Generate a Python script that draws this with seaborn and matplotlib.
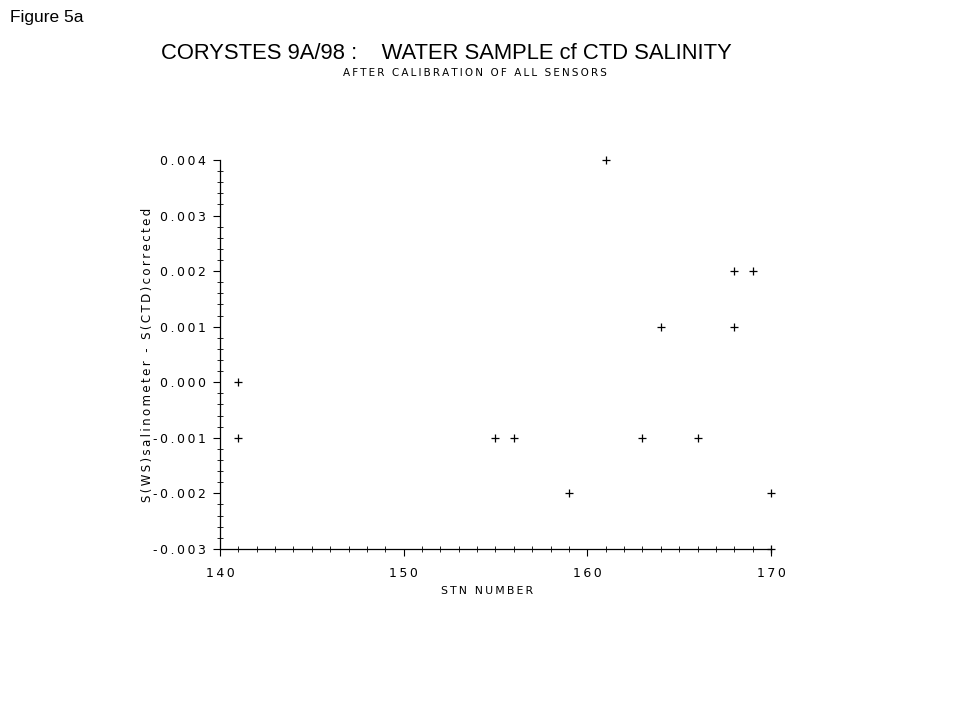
import numpy as np
import pandas as pd
import matplotlib
matplotlib.use("Agg")
import matplotlib.pyplot as plt
import seaborn as sns
from matplotlib.ticker import MultipleLocator, FuncFormatter

# ---------- data ----------
stn = [141, 141, 155, 156, 159, 161, 163, 164, 166, 168, 168, 169, 170, 170]
sal_diff = [0.000, -0.001, -0.001, -0.001, -0.002, 0.004, -0.001, 0.001,
            -0.001, 0.002, 0.001, 0.002, -0.002, -0.003]

x_ticks = [140, 150, 160, 170]
y_ticks = [-0.003, -0.002, -0.001, 0.000, 0.001, 0.002, 0.003, 0.004]

THIN = "\u2009"


def spaced(s):
    """Mimic the wide-tracked plotter font."""
    return THIN.join(s)


sns.set_style("white")
plt.rcParams["font.family"] = ["DejaVu Sans"]
plt.rcParams["text.color"] = "black"
plt.rcParams["axes.labelcolor"] = "black"

df = pd.DataFrame({"stn": stn, "diff": sal_diff})

fig = plt.figure(figsize=(9.8, 7.11), dpi=100)
ax = fig.add_axes([0.2245, 0.228, 0.5622, 0.547])

sns.scatterplot(data=df, x="stn", y="diff", marker="+", s=40, color="black",
                linewidth=0.9, ax=ax, clip_on=False, legend=False)

ax.set_xlim(140, 170)
ax.set_ylim(-0.003, 0.004)
ax.set_xticks(x_ticks)
ax.set_yticks(y_ticks)
ax.xaxis.set_minor_locator(MultipleLocator(1))
ax.yaxis.set_minor_locator(MultipleLocator(0.0002))

ax.xaxis.set_major_formatter(FuncFormatter(lambda v, p: spaced(f"{v:.0f}")))
ax.yaxis.set_major_formatter(FuncFormatter(lambda v, p: spaced(f"{v:.3f}".replace("-0.000", "0.000"))))

for side in ["top", "right"]:
    ax.spines[side].set_visible(False)
for side in ["left", "bottom"]:
    ax.spines[side].set_color("black")
    ax.spines[side].set_linewidth(0.9)

ax.tick_params(axis="both", which="major", direction="out", length=5, width=0.8,
               labelsize=9, colors="black", left=True, bottom=True)
ax.tick_params(axis="both", which="minor", direction="inout", length=4, width=0.6,
               colors="black", left=True, bottom=True)
ax.tick_params(axis="x", which="major", pad=8)
ax.tick_params(axis="y", which="major", pad=5)

ax.set_xlabel(spaced("STN NUMBER"), fontsize=7.8)
ax.xaxis.set_label_coords(0.485, -0.095)
ax.set_ylabel(spaced("S(WS)salinometer - S(CTD)corrected"), fontsize=8.5)
ax.yaxis.set_label_coords(-0.12, 0.5)

# ---------- titles ----------
fig.text(0.0102, 0.975, "Figure 5a", fontsize=12.5, family="Liberation Sans",
         ha="left", va="center")
fig.text(0.4556, 0.925, "CORYSTES 9A/98 :    WATER SAMPLE cf CTD SALINITY",
         fontsize=15.8, family="Liberation Sans", ha="center", va="center")
fig.text(0.485, 0.897, spaced("AFTER CALIBRATION OF ALL SENSORS"),
         fontsize=7.5, ha="center", va="center")

fig.savefig("out.png", dpi=100)
